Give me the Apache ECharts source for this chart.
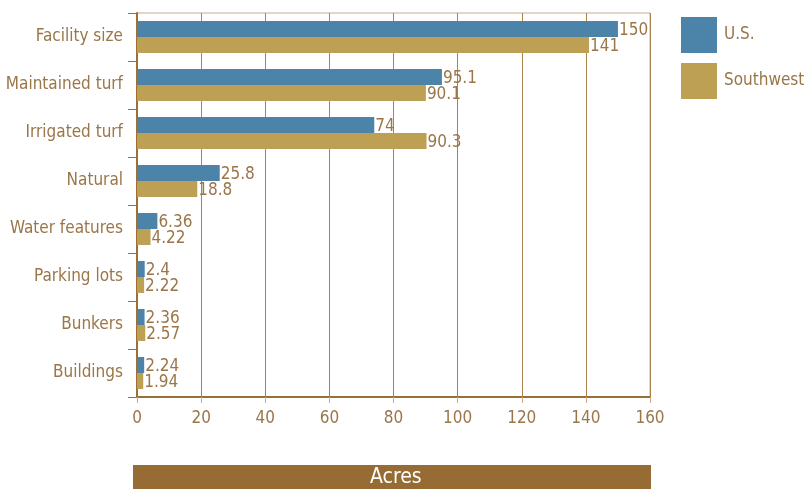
<!DOCTYPE html>
<html>
<head>
<meta charset="utf-8">
<script src="https://cdn.jsdelivr.net/npm/echarts@6/dist/echarts.min.js"></script>
<style>
  html, body { margin: 0; padding: 0; background: #fff; }
  #chart { width: 804px; height: 489px; }
</style>
</head>
<body>
<div id="chart"></div>
<script>
const categories = ['Facility size', 'Maintained turf', 'Irrigated turf', 'Natural',
  'Water features', 'Parking lots', 'Bunkers', 'Buildings'];
const usValues = [150, 95.1, 74, 25.8, 6.36, 2.4, 2.36, 2.24];
const southwestValues = [141, 90.1, 90.3, 18.8, 4.22, 2.22, 2.57, 1.94];
const seriesNames = ['U.S.', 'Southwest'];
const axisTitle = 'Acres';

const font = '"DejaVu Sans Condensed", "Liberation Sans Narrow", sans-serif';
const textColor = '#9a7649';
const lineColor = '#9b6f38';

const chart = echarts.init(document.getElementById('chart'));

const valueLabel = {
  show: true,
  position: 'right',
  distance: 1,
  offset: [0, 2],
  color: textColor,
  fontFamily: font,
  fontSize: 17,
};

chart.setOption({
  animation: false,
  color: ['#4b83a9', '#bea055'],
  textStyle: { fontFamily: font },
  grid: {
    left: 137,
    right: 154,
    top: 13,
    bottom: 92,
    outerBoundsMode: 'none',
    containLabel: false,
    show: true,
    borderColor: '#c6ad88',
    borderWidth: 1,
  },
  legend: {
    orient: 'vertical',
    left: 676,
    top: 12,
    itemWidth: 36,
    itemHeight: 36,
    itemGap: 10,
    icon: 'rect',
    data: seriesNames,
    textStyle: { color: textColor, fontSize: 17, fontFamily: font, padding: [0, 0, 4, 2] },
  },
  xAxis: {
    type: 'value',
    min: 0,
    max: 160,
    interval: 20,
    axisLine: { show: true, lineStyle: { color: lineColor, width: 2 } },
    axisTick: { show: true, length: 6, lineStyle: { color: '#c6ad88' } },
    axisLabel: { color: textColor, fontSize: 17, fontFamily: font, margin: 13 },
    splitLine: { show: true, lineStyle: { color: '#a9844f', width: 1 } },
  },
  yAxis: {
    type: 'category',
    inverse: true,
    data: categories,
    axisLine: { show: true, lineStyle: { color: lineColor, width: 2 } },
    axisTick: { show: true, length: 9, lineStyle: { color: lineColor } },
    axisLabel: { color: textColor, fontSize: 17, fontFamily: font, margin: 14 },
  },
  series: [
    {
      name: seriesNames[0],
      type: 'bar',
      data: usValues,
      barWidth: 16,
      barGap: '0%',
      label: valueLabel,
    },
    {
      name: seriesNames[1],
      type: 'bar',
      data: southwestValues,
      barWidth: 16,
      barGap: '0%',
      label: valueLabel,
    },
  ],
  graphic: [
    {
      type: 'rect',
      left: 133,
      top: 465,
      shape: { width: 518, height: 24 },
      style: { fill: '#966c34' },
    },
    {
      type: 'text',
      left: 370,
      top: 467,
      style: {
        text: axisTitle,
        fill: '#fff',
        fontSize: 21,
        fontFamily: font,
      },
    },
  ],
});
</script>
</body>
</html>
